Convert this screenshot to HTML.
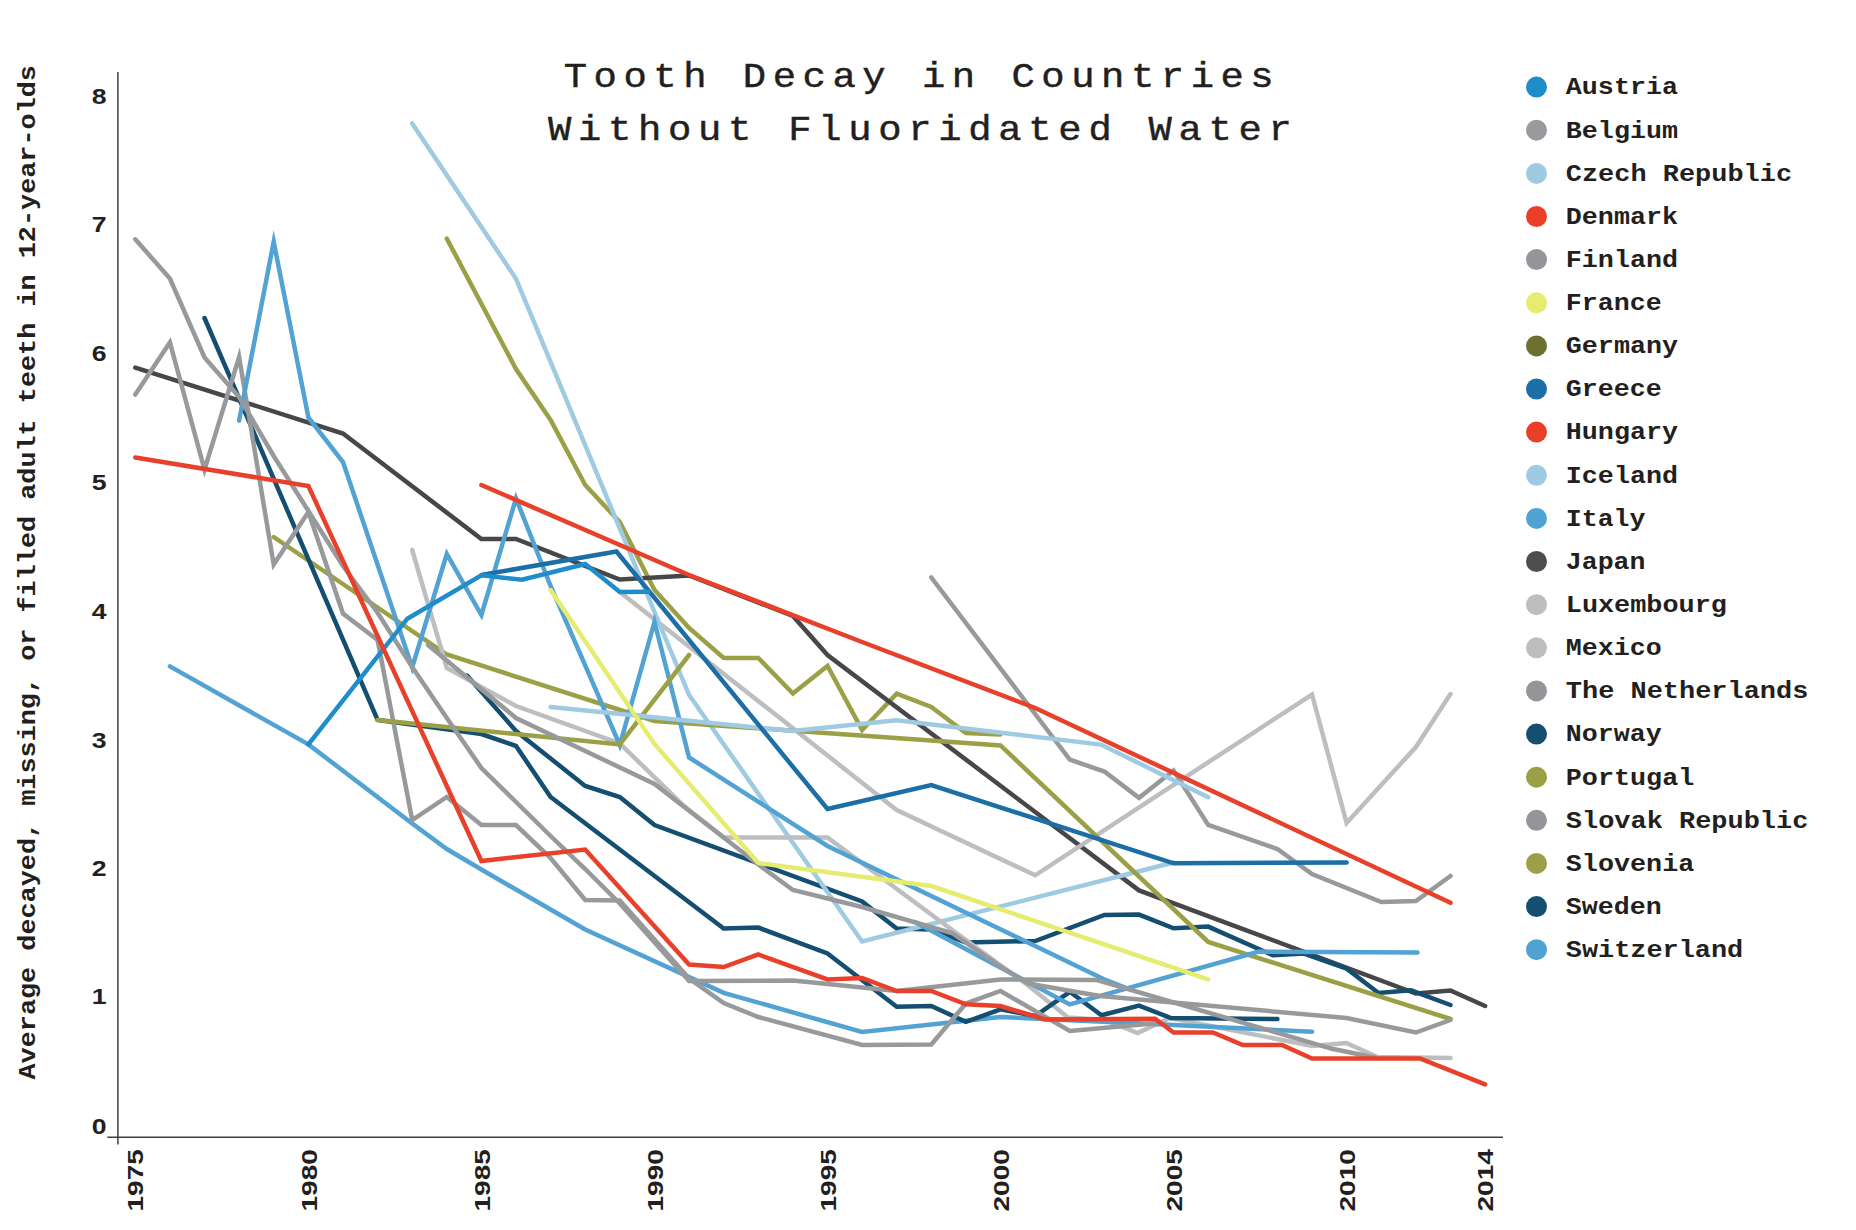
<!DOCTYPE html>
<html lang="en"><head><meta charset="utf-8"><title>Tooth Decay in Countries Without Fluoridated Water</title>
<style>html,body{margin:0;padding:0;background:#fff;}svg{display:block;}</style></head><body>
<svg width="1856" height="1230" viewBox="0 0 1856 1230">
<rect width="1856" height="1230" fill="#fff"/>
<g stroke="#414143" stroke-width="1.5" fill="none"><line x1="117.9" y1="72" x2="117.9" y2="1144.4"/><line x1="107.3" y1="1137.3" x2="1503" y2="1137.3"/></g>
<g fill="none" stroke-width="4.5" stroke-linecap="round" stroke-linejoin="miter" stroke-miterlimit="10">
<path id="o3" stroke="#9ba046" d="M446.8,238.6 L516.0,369.0 L550.6,420.0 L585.2,485.0 L619.8,522.0 L654.5,590.0 L689.1,628.0 L723.7,658.0 L758.3,658.0 L792.9,693.5 L827.5,666.0 L862.1,730.0 L896.7,693.6 L931.3,707.0 L965.9,733.0 L1000.5,734.5"/>
<path id="japan" stroke="#474749" d="M135.3,367.6 L343.0,433.5 L481.4,539.0 L516.0,539.0 L619.8,579.5 L689.1,575.5 L792.9,616.0 L827.5,655.0 L1139.0,890.4 L1415.9,993.5 L1450.5,990.5 L1485.1,1006.0"/>
<path id="mexico" stroke="#bcbec0" d="M619.8,592.0 L896.7,810.0 L1035.2,875.3 L1312.0,694.5 L1346.6,823.0 L1415.9,747.0 L1450.5,694.0"/>
<path id="n2" stroke="#144e70" d="M467.0,675.6 L516.0,731.0 L585.2,786.0 L619.8,797.0 L654.5,825.0 L862.1,901.5 L896.7,928.6 L931.3,929.5 L965.9,942.5 L1035.2,941.0 L1104.4,915.0 L1139.0,914.6 L1173.6,928.3 L1208.2,926.6 L1273.0,955.3 L1304.0,953.6 L1346.6,968.6 L1378.5,993.0 L1411.0,990.3 L1450.5,1005.0"/>
<path id="czech" stroke="#9ecae2" d="M412.2,123.4 L516.0,278.7 L654.5,612.0 L689.1,695.0 L862.1,941.5 L1173.6,862.5"/>
<path id="o1" stroke="#9ba046" d="M273.7,537.0 L446.8,654.5 L654.5,721.0 L1000.5,745.4 L1208.2,942.0 L1450.5,1019.0"/>
<path id="lg1" stroke="#bcbec0" d="M412.2,550.0 L446.8,668.0 L516.0,706.0 L619.8,743.5 L684.0,806.0 L723.7,837.5 L827.5,837.5 L940.0,921.0 L1027.0,984.5 L1068.0,1017.5 L1105.0,1020.0 L1137.6,1033.0 L1170.0,1018.0 L1312.5,1046.0 L1346.3,1043.0 L1377.5,1057.0 L1450.5,1058.0"/>
<path id="switz" stroke="#52a3d3" d="M169.9,666.4 L308.4,744.4 L412.2,823.5 L446.8,849.0 L481.4,869.5 L516.0,889.5 L550.6,909.5 L585.2,929.5 L723.7,992.8 L862.1,1032.0 L1000.5,1017.0 L1173.6,1025.0 L1312.0,1031.8"/>
<path id="n1" stroke="#144e70" d="M204.5,318.0 L377.6,720.0 L481.4,734.0 L516.0,746.0 L550.6,797.0 L723.7,928.5 L758.3,927.6 L827.5,953.5 L896.7,1006.8 L931.3,1006.0 L965.9,1021.9 L1000.5,1009.3 L1035.2,1016.0 L1069.8,991.8 L1101.5,1015.2 L1139.0,1005.6 L1171.0,1018.0 L1277.4,1019.1"/>
<path id="mb2" stroke="#52a3d3" d="M915.0,922.0 L1069.8,1004.4 L1259.0,951.6 L1417.5,952.5"/>
<path id="g4" stroke="#97999b" d="M931.3,577.5 L1069.8,759.6 L1104.4,771.5 L1139.0,797.8 L1173.6,770.5 L1208.2,825.0 L1277.4,849.0 L1312.0,874.0 L1381.3,902.0 L1415.9,901.0 L1450.5,876.0"/>
<path id="g1" stroke="#97999b" d="M135.3,394.6 L169.9,342.5 L204.5,469.7 L239.1,357.0 L273.7,564.6 L308.4,512.0 L343.0,613.6 L377.6,640.0 L412.2,820.0 L446.8,797.0 L481.4,825.0 L516.0,825.0 L550.6,858.0 L585.2,900.0 L619.8,900.5 L689.1,978.5 L723.7,1003.0 L758.3,1017.0 L862.1,1045.0 L931.3,1044.5 L965.9,1003.5 L1000.5,991.0 L1069.8,1031.0 L1158.0,1023.0"/>
<path id="italy" stroke="#52a3d3" d="M239.1,420.6 L273.7,241.7 L308.4,417.5 L343.0,462.0 L412.2,667.5 L446.8,554.0 L481.4,615.0 L516.0,498.5 L550.6,586.0 L619.8,745.0 L654.5,622.0 L689.1,757.5 L827.5,846.0 L1103.5,979.0 L1125.0,987.5"/>
<path id="o2" stroke="#9ba046" d="M377.6,720.0 L619.8,744.5 L689.1,655.0"/>
<path id="g2" stroke="#97999b" d="M135.3,239.3 L169.9,278.5 L204.5,357.5 L239.1,397.0 L273.7,456.0 L308.4,511.0 L343.0,566.0 L377.6,612.7 L412.2,667.0 L446.8,718.0 L481.4,768.0 L516.0,802.0 L550.6,836.0 L585.2,869.0 L619.8,903.5 L689.1,981.0 L792.9,980.5 L896.7,991.0 L1000.5,979.5 L1097.0,980.0 L1332.0,1048.8 L1376.0,1057.8"/>
<path id="iceland" stroke="#9ecae2" d="M550.6,707.0 L792.9,731.0 L896.7,720.3 L1101.0,744.6 L1208.2,797.2"/>
<path id="greece" stroke="#1b6fa6" d="M481.4,575.0 L616.5,551.5 L827.5,809.0 L931.3,785.0 L1173.6,863.3 L1346.6,862.5"/>
<path id="austria" stroke="#1f8ccc" d="M308.4,744.4 L407.3,618.7 L481.4,575.2 L522.0,579.8 L585.2,564.0 L619.8,592.0 L648.5,591.8"/>
<path id="g3" stroke="#97999b" d="M428.0,645.0 L516.0,718.0 L654.5,784.0 L723.7,837.5 L758.3,864.5 L792.9,890.0 L862.1,907.0 L952.0,933.0 L1000.5,966.7 L1028.0,983.5 L1100.0,996.0 L1346.6,1018.0 L1415.9,1032.5 L1450.5,1020.0"/>
<path id="france" stroke="#e5ec70" d="M550.6,590.0 L654.5,744.0 L758.3,863.0 L931.3,886.0 L1208.2,979.4"/>
<path id="hungary" stroke="#e8402a" d="M481.4,485.0 L689.1,575.0 L862.1,642.0 L1035.2,708.0 L1450.5,902.8"/>
<path id="denmark" stroke="#e8402a" d="M135.3,457.5 L308.4,486.0 L481.4,861.0 L585.2,849.5 L689.1,964.5 L723.7,967.0 L758.3,954.5 L827.5,979.4 L862.1,978.0 L896.7,991.0 L931.3,991.0 L965.9,1004.3 L1000.5,1006.0 L1045.0,1019.5 L1155.0,1018.8 L1173.6,1032.5 L1213.0,1032.5 L1242.8,1045.0 L1282.0,1045.0 L1312.0,1058.5 L1420.0,1058.5 L1485.1,1084.4"/>
</g>
<text transform="translate(918.7 86.6) scale(1.08 1)" x="0" y="0" font-family="'Liberation Mono', 'DejaVu Sans Mono', monospace" font-size="36" text-anchor="middle" fill="#231f20" stroke="#231f20" stroke-width="0.45" textLength="657.4" lengthAdjust="spacing">Tooth Decay in Countries</text>
<text transform="translate(919.9 140.4) scale(1.08 1)" x="0" y="0" font-family="'Liberation Mono', 'DejaVu Sans Mono', monospace" font-size="36" text-anchor="middle" fill="#231f20" stroke="#231f20" stroke-width="0.45" textLength="688.9" lengthAdjust="spacing">Without Fluoridated Water</text>
<circle cx="1536.5" cy="87.1" r="10.5" fill="#1f8ccc"/>
<text x="1565.8" y="94.4" font-family="'Liberation Mono', 'DejaVu Sans Mono', monospace" font-size="24" font-weight="bold" text-anchor="start" fill="#231f20" textLength="112.2" lengthAdjust="spacingAndGlyphs">Austria</text>
<circle cx="1536.5" cy="130.2" r="10.5" fill="#999a9d"/>
<text x="1565.8" y="137.5" font-family="'Liberation Mono', 'DejaVu Sans Mono', monospace" font-size="24" font-weight="bold" text-anchor="start" fill="#231f20" textLength="112.2" lengthAdjust="spacingAndGlyphs">Belgium</text>
<circle cx="1536.5" cy="173.4" r="10.5" fill="#9ecae2"/>
<text x="1565.8" y="180.7" font-family="'Liberation Mono', 'DejaVu Sans Mono', monospace" font-size="24" font-weight="bold" text-anchor="start" fill="#231f20" textLength="226.3" lengthAdjust="spacingAndGlyphs">Czech Republic</text>
<circle cx="1536.5" cy="216.5" r="10.5" fill="#e93f28"/>
<text x="1565.8" y="223.8" font-family="'Liberation Mono', 'DejaVu Sans Mono', monospace" font-size="24" font-weight="bold" text-anchor="start" fill="#231f20" textLength="112.2" lengthAdjust="spacingAndGlyphs">Denmark</text>
<circle cx="1536.5" cy="259.6" r="10.5" fill="#939598"/>
<text x="1565.8" y="266.9" font-family="'Liberation Mono', 'DejaVu Sans Mono', monospace" font-size="24" font-weight="bold" text-anchor="start" fill="#231f20" textLength="112.2" lengthAdjust="spacingAndGlyphs">Finland</text>
<circle cx="1536.5" cy="302.8" r="10.5" fill="#e5ec70"/>
<text x="1565.8" y="310.1" font-family="'Liberation Mono', 'DejaVu Sans Mono', monospace" font-size="24" font-weight="bold" text-anchor="start" fill="#231f20" textLength="95.9" lengthAdjust="spacingAndGlyphs">France</text>
<circle cx="1536.5" cy="345.9" r="10.5" fill="#6c7130"/>
<text x="1565.8" y="353.2" font-family="'Liberation Mono', 'DejaVu Sans Mono', monospace" font-size="24" font-weight="bold" text-anchor="start" fill="#231f20" textLength="112.2" lengthAdjust="spacingAndGlyphs">Germany</text>
<circle cx="1536.5" cy="389.0" r="10.5" fill="#1b6fa6"/>
<text x="1565.8" y="396.3" font-family="'Liberation Mono', 'DejaVu Sans Mono', monospace" font-size="24" font-weight="bold" text-anchor="start" fill="#231f20" textLength="95.9" lengthAdjust="spacingAndGlyphs">Greece</text>
<circle cx="1536.5" cy="432.1" r="10.5" fill="#e93f28"/>
<text x="1565.8" y="439.4" font-family="'Liberation Mono', 'DejaVu Sans Mono', monospace" font-size="24" font-weight="bold" text-anchor="start" fill="#231f20" textLength="112.2" lengthAdjust="spacingAndGlyphs">Hungary</text>
<circle cx="1536.5" cy="475.3" r="10.5" fill="#9ecae2"/>
<text x="1565.8" y="482.6" font-family="'Liberation Mono', 'DejaVu Sans Mono', monospace" font-size="24" font-weight="bold" text-anchor="start" fill="#231f20" textLength="112.2" lengthAdjust="spacingAndGlyphs">Iceland</text>
<circle cx="1536.5" cy="518.4" r="10.5" fill="#4fa3d2"/>
<text x="1565.8" y="525.7" font-family="'Liberation Mono', 'DejaVu Sans Mono', monospace" font-size="24" font-weight="bold" text-anchor="start" fill="#231f20" textLength="79.6" lengthAdjust="spacingAndGlyphs">Italy</text>
<circle cx="1536.5" cy="561.5" r="10.5" fill="#4d4d4f"/>
<text x="1565.8" y="568.8" font-family="'Liberation Mono', 'DejaVu Sans Mono', monospace" font-size="24" font-weight="bold" text-anchor="start" fill="#231f20" textLength="79.6" lengthAdjust="spacingAndGlyphs">Japan</text>
<circle cx="1536.5" cy="604.7" r="10.5" fill="#bcbec0"/>
<text x="1565.8" y="612.0" font-family="'Liberation Mono', 'DejaVu Sans Mono', monospace" font-size="24" font-weight="bold" text-anchor="start" fill="#231f20" textLength="161.1" lengthAdjust="spacingAndGlyphs">Luxembourg</text>
<circle cx="1536.5" cy="647.8" r="10.5" fill="#bcbec0"/>
<text x="1565.8" y="655.1" font-family="'Liberation Mono', 'DejaVu Sans Mono', monospace" font-size="24" font-weight="bold" text-anchor="start" fill="#231f20" textLength="95.9" lengthAdjust="spacingAndGlyphs">Mexico</text>
<circle cx="1536.5" cy="690.9" r="10.5" fill="#939598"/>
<text x="1565.8" y="698.2" font-family="'Liberation Mono', 'DejaVu Sans Mono', monospace" font-size="24" font-weight="bold" text-anchor="start" fill="#231f20" textLength="242.6" lengthAdjust="spacingAndGlyphs">The Netherlands</text>
<circle cx="1536.5" cy="734.1" r="10.5" fill="#144e70"/>
<text x="1565.8" y="741.4" font-family="'Liberation Mono', 'DejaVu Sans Mono', monospace" font-size="24" font-weight="bold" text-anchor="start" fill="#231f20" textLength="95.9" lengthAdjust="spacingAndGlyphs">Norway</text>
<circle cx="1536.5" cy="777.2" r="10.5" fill="#9ba046"/>
<text x="1565.8" y="784.5" font-family="'Liberation Mono', 'DejaVu Sans Mono', monospace" font-size="24" font-weight="bold" text-anchor="start" fill="#231f20" textLength="128.5" lengthAdjust="spacingAndGlyphs">Portugal</text>
<circle cx="1536.5" cy="820.3" r="10.5" fill="#939598"/>
<text x="1565.8" y="827.6" font-family="'Liberation Mono', 'DejaVu Sans Mono', monospace" font-size="24" font-weight="bold" text-anchor="start" fill="#231f20" textLength="242.6" lengthAdjust="spacingAndGlyphs">Slovak Republic</text>
<circle cx="1536.5" cy="863.4" r="10.5" fill="#9ba046"/>
<text x="1565.8" y="870.7" font-family="'Liberation Mono', 'DejaVu Sans Mono', monospace" font-size="24" font-weight="bold" text-anchor="start" fill="#231f20" textLength="128.5" lengthAdjust="spacingAndGlyphs">Slovenia</text>
<circle cx="1536.5" cy="906.6" r="10.5" fill="#144e70"/>
<text x="1565.8" y="913.9" font-family="'Liberation Mono', 'DejaVu Sans Mono', monospace" font-size="24" font-weight="bold" text-anchor="start" fill="#231f20" textLength="95.9" lengthAdjust="spacingAndGlyphs">Sweden</text>
<circle cx="1536.5" cy="949.7" r="10.5" fill="#4fa3d2"/>
<text x="1565.8" y="957.0" font-family="'Liberation Mono', 'DejaVu Sans Mono', monospace" font-size="24" font-weight="bold" text-anchor="start" fill="#231f20" textLength="177.4" lengthAdjust="spacingAndGlyphs">Switzerland</text>
<text x="91.8" y="1133.9" font-family="'Liberation Sans', 'DejaVu Sans', sans-serif" font-size="21.8" font-weight="bold" fill="#231f20" textLength="14.8" lengthAdjust="spacingAndGlyphs">0</text>
<text x="91.8" y="1003.9" font-family="'Liberation Sans', 'DejaVu Sans', sans-serif" font-size="21.8" font-weight="bold" fill="#231f20" textLength="14.8" lengthAdjust="spacingAndGlyphs">1</text>
<text x="91.8" y="875.9" font-family="'Liberation Sans', 'DejaVu Sans', sans-serif" font-size="21.8" font-weight="bold" fill="#231f20" textLength="14.8" lengthAdjust="spacingAndGlyphs">2</text>
<text x="91.8" y="747.9" font-family="'Liberation Sans', 'DejaVu Sans', sans-serif" font-size="21.8" font-weight="bold" fill="#231f20" textLength="14.8" lengthAdjust="spacingAndGlyphs">3</text>
<text x="91.8" y="618.9" font-family="'Liberation Sans', 'DejaVu Sans', sans-serif" font-size="21.8" font-weight="bold" fill="#231f20" textLength="14.8" lengthAdjust="spacingAndGlyphs">4</text>
<text x="91.8" y="489.9" font-family="'Liberation Sans', 'DejaVu Sans', sans-serif" font-size="21.8" font-weight="bold" fill="#231f20" textLength="14.8" lengthAdjust="spacingAndGlyphs">5</text>
<text x="91.8" y="360.9" font-family="'Liberation Sans', 'DejaVu Sans', sans-serif" font-size="21.8" font-weight="bold" fill="#231f20" textLength="14.8" lengthAdjust="spacingAndGlyphs">6</text>
<text x="91.8" y="231.9" font-family="'Liberation Sans', 'DejaVu Sans', sans-serif" font-size="21.8" font-weight="bold" fill="#231f20" textLength="14.8" lengthAdjust="spacingAndGlyphs">7</text>
<text x="91.8" y="103.9" font-family="'Liberation Sans', 'DejaVu Sans', sans-serif" font-size="21.8" font-weight="bold" fill="#231f20" textLength="14.8" lengthAdjust="spacingAndGlyphs">8</text>
<text x="143.4" y="1211.5" font-family="'Liberation Sans', 'DejaVu Sans', sans-serif" font-size="21.8" font-weight="bold" fill="#231f20" textLength="62.4" lengthAdjust="spacingAndGlyphs" transform="rotate(-90 143.4 1211.5)">1975</text>
<text x="316.5" y="1211.5" font-family="'Liberation Sans', 'DejaVu Sans', sans-serif" font-size="21.8" font-weight="bold" fill="#231f20" textLength="62.4" lengthAdjust="spacingAndGlyphs" transform="rotate(-90 316.5 1211.5)">1980</text>
<text x="489.5" y="1211.5" font-family="'Liberation Sans', 'DejaVu Sans', sans-serif" font-size="21.8" font-weight="bold" fill="#231f20" textLength="62.4" lengthAdjust="spacingAndGlyphs" transform="rotate(-90 489.5 1211.5)">1985</text>
<text x="662.6" y="1211.5" font-family="'Liberation Sans', 'DejaVu Sans', sans-serif" font-size="21.8" font-weight="bold" fill="#231f20" textLength="62.4" lengthAdjust="spacingAndGlyphs" transform="rotate(-90 662.6 1211.5)">1990</text>
<text x="835.6" y="1211.5" font-family="'Liberation Sans', 'DejaVu Sans', sans-serif" font-size="21.8" font-weight="bold" fill="#231f20" textLength="62.4" lengthAdjust="spacingAndGlyphs" transform="rotate(-90 835.6 1211.5)">1995</text>
<text x="1008.6" y="1211.5" font-family="'Liberation Sans', 'DejaVu Sans', sans-serif" font-size="21.8" font-weight="bold" fill="#231f20" textLength="62.4" lengthAdjust="spacingAndGlyphs" transform="rotate(-90 1008.6 1211.5)">2000</text>
<text x="1181.7" y="1211.5" font-family="'Liberation Sans', 'DejaVu Sans', sans-serif" font-size="21.8" font-weight="bold" fill="#231f20" textLength="62.4" lengthAdjust="spacingAndGlyphs" transform="rotate(-90 1181.7 1211.5)">2005</text>
<text x="1354.7" y="1211.5" font-family="'Liberation Sans', 'DejaVu Sans', sans-serif" font-size="21.8" font-weight="bold" fill="#231f20" textLength="62.4" lengthAdjust="spacingAndGlyphs" transform="rotate(-90 1354.7 1211.5)">2010</text>
<text x="1493.2" y="1211.5" font-family="'Liberation Sans', 'DejaVu Sans', sans-serif" font-size="21.8" font-weight="bold" fill="#231f20" textLength="62.4" lengthAdjust="spacingAndGlyphs" transform="rotate(-90 1493.2 1211.5)">2014</text>
<text x="35.4" y="1079.5" font-family="'Liberation Mono', 'DejaVu Sans Mono', monospace" font-size="24" font-weight="bold" text-anchor="start" fill="#231f20" textLength="1014.5" lengthAdjust="spacingAndGlyphs" transform="rotate(-90 35.4 1079.5)">Average decayed, missing, or filled adult teeth in 12-year-olds</text>
</svg></body></html>
